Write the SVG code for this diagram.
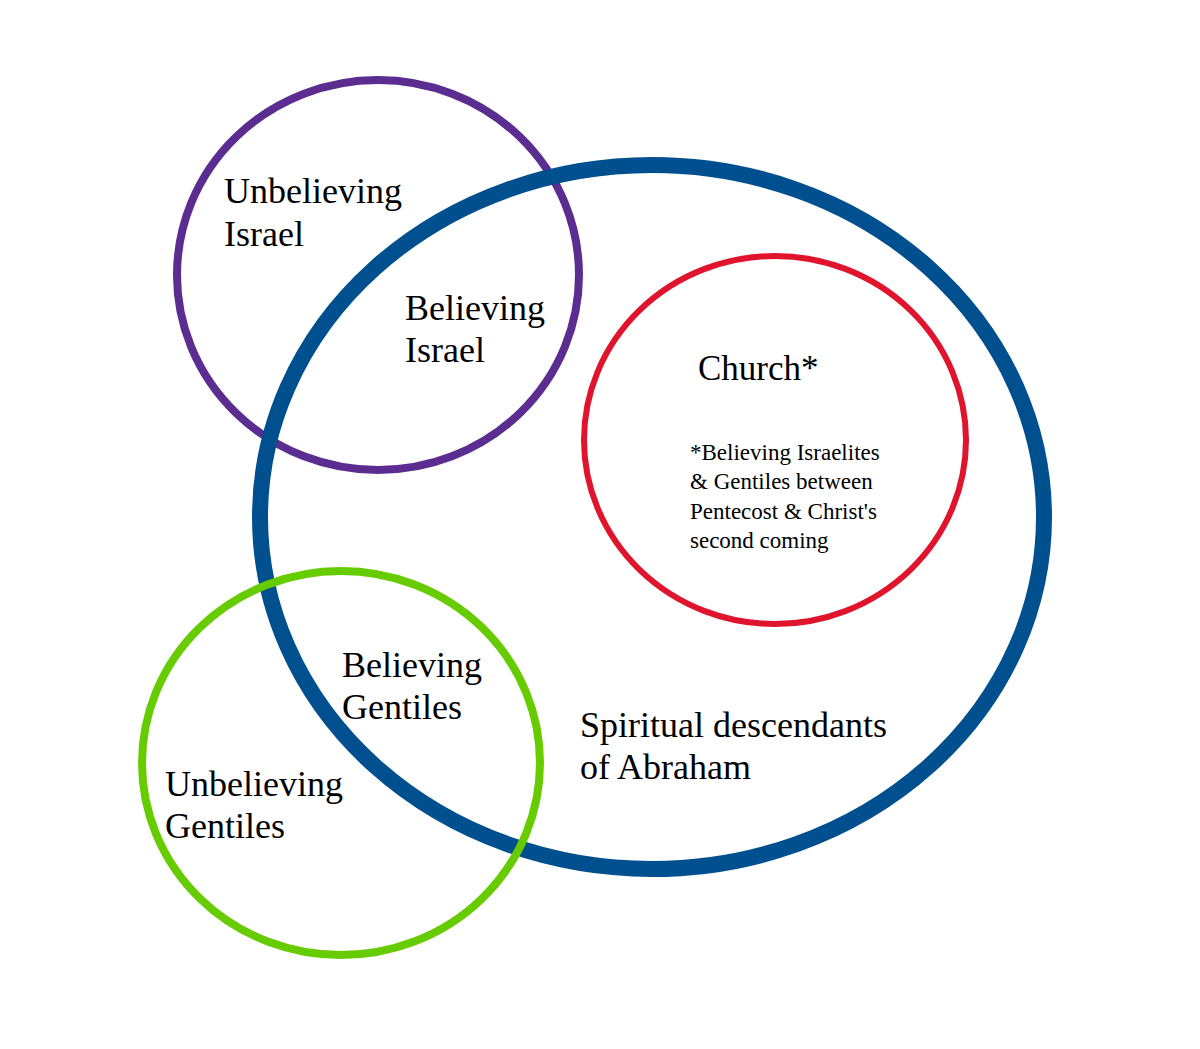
<svg xmlns="http://www.w3.org/2000/svg" width="1200" height="1049" viewBox="0 0 1200 1049">
<style>
.c{fill:none}
.t{font-family:"Liberation Serif",serif;font-size:36px;fill:#000}
.s{font-family:"Liberation Serif",serif;font-size:23px;fill:#000}
</style>
<rect width="1200" height="1049" fill="#fff"/>
<g id="israel"><ellipse class="c" cx="378" cy="275" rx="201" ry="195" stroke="#5b2d90" stroke-width="8"/>
<text class="t" x="224" y="203">Unbelieving</text><text class="t" x="224" y="246">Israel</text></g>
<g id="abraham"><ellipse class="c" cx="652" cy="517" rx="392" ry="352" stroke="#004f8f" stroke-width="16"/>
<text class="t" x="580" y="737">Spiritual descendants</text><text class="t" x="580" y="779">of Abraham</text></g>
<g id="church"><ellipse class="c" cx="775" cy="440" rx="191" ry="184" stroke="#e0142d" stroke-width="6"/>
<text class="t" x="698" y="380" style="font-size:35px">Church*</text>
<text class="s" x="690" y="460">*Believing Israelites</text>
<text class="s" x="690" y="489">&amp; Gentiles between</text>
<text class="s" x="690" y="519">Pentecost &amp; Christ's</text>
<text class="s" x="690" y="548">second coming</text></g>
<g id="gentiles"><ellipse class="c" cx="341" cy="763" rx="199" ry="192" stroke="#66cc00" stroke-width="8"/>
<text class="t" x="165" y="796">Unbelieving</text><text class="t" x="165" y="838">Gentiles</text></g>
<g id="labels">
<text class="t" x="405" y="320">Believing</text><text class="t" x="405" y="362">Israel</text>
<text class="t" x="342" y="677">Believing</text><text class="t" x="342" y="719">Gentiles</text></g>
<g id="connectors"/>
</svg>
